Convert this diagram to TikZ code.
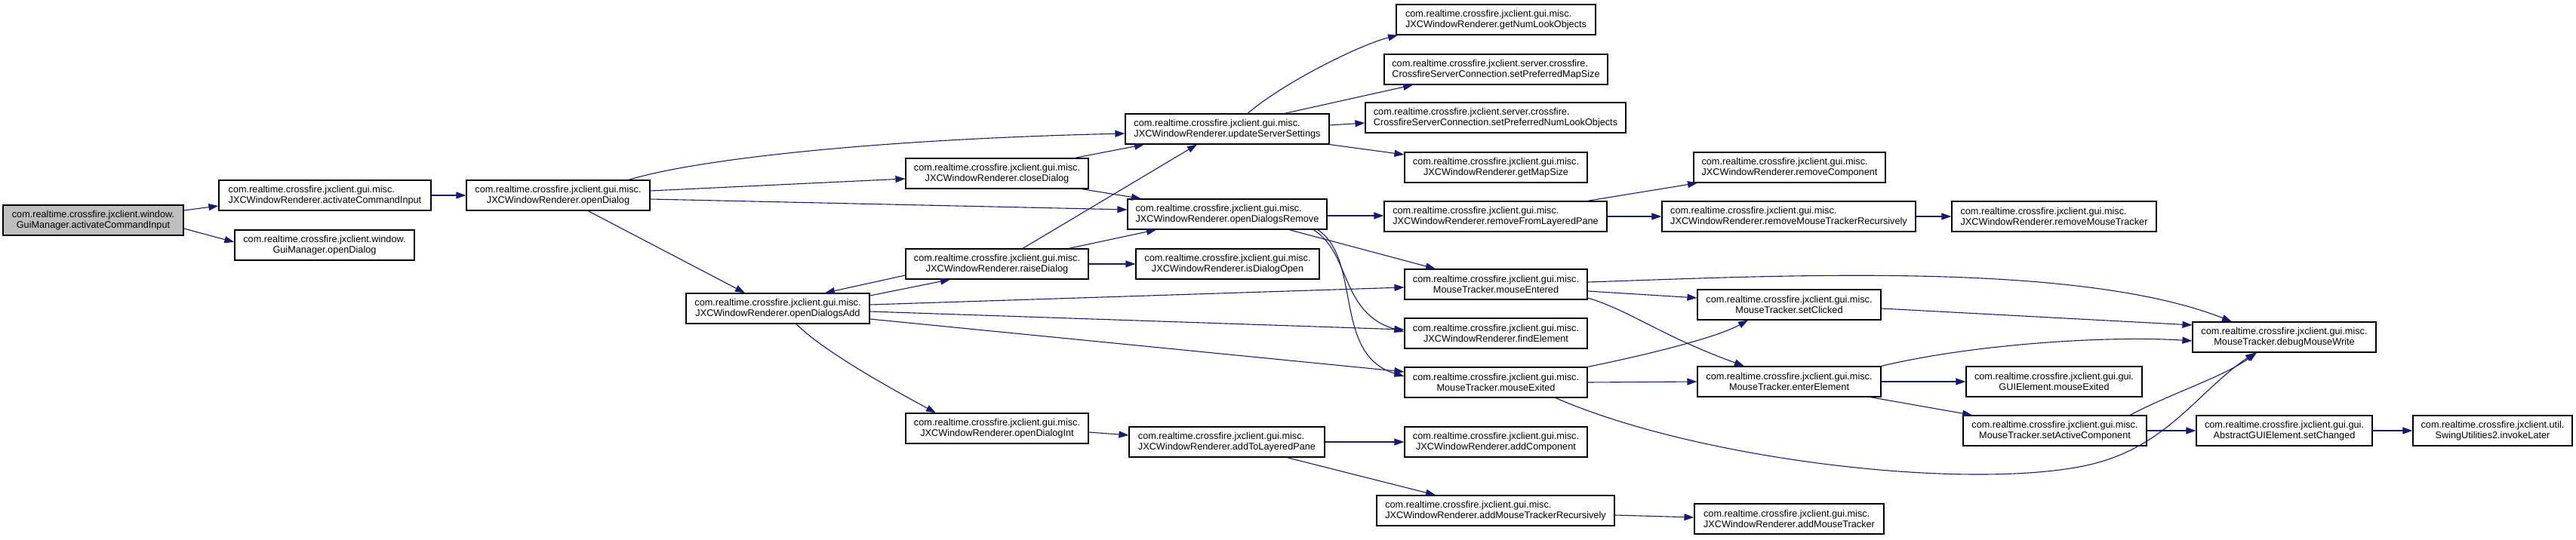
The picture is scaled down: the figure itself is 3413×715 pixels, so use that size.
\documentclass[tikz,border=0pt]{standalone}
\usepackage{fontspec}
\setmainfont{Liberation Sans}
\usetikzlibrary{arrows.meta,calc}
\definecolor{edgeblue}{HTML}{191970}
\definecolor{rootgrey}{HTML}{BFBFBF}
\newsavebox\dlA
\newsavebox\dlB
\newlength\dlW
\newcommand\dlab[2]{\sbox\dlA{#1}\sbox\dlB{#2}%
  \setlength\dlW{\wd\dlA}\ifdim\wd\dlB>\dlW\setlength\dlW{\wd\dlB}\fi
  \vbox{\hbox to\dlW{\usebox\dlA\hfil}\hbox to\dlW{\hfil\usebox\dlB\hfil}}}
% \dnode[opts]{name}{x1}{y1}{x2}{line1}{line2}
\newcommand\dnode[7][]{\node[nd,#1,minimum width={(#5-#3)*1pt}] (#2) at ({(#3+#5)/2},{#4+20}) {\dlab{#6}{#7}};}
\begin{document}
\begin{tikzpicture}[x=1pt,y=-1pt,
  nd/.style={draw=black,line width=1.2pt,fill=white,inner sep=0pt,minimum height=40pt,
    font=\fontsize{12.7}{14}\selectfont},
  rootnd/.style={fill=rootgrey},
  ed/.style={draw=edgeblue,line width=1.1pt,-{Triangle[length=13pt,width=9pt]}}]
\useasboundingbox (0,0) rectangle (3413,715);
\def\gm{com.realtime.crossfire.jxclient.gui.misc.}
\def\gg{com.realtime.crossfire.jxclient.gui.gui.}
\def\jr{JXCWindowRenderer}
\dnode[rootnd]{root}{4}{272}{243}{com.realtime.crossfire.jxclient.window.}{GuiManager.activateCommandInput}
\dnode{aci}{290}{239}{571}{\gm}{\jr.activateCommandInput}
\dnode{gmod}{311}{305}{549}{com.realtime.crossfire.jxclient.window.}{GuiManager.openDialog}
\dnode{od}{618}{239}{861}{\gm}{\jr.openDialog}
\dnode{oda}{909}{389}{1152}{\gm}{\jr.openDialogsAdd}
\dnode{cd}{1200}{210}{1442}{\gm}{\jr.closeDialog}
\dnode{rd}{1200}{330}{1442}{\gm}{\jr.raiseDialog}
\dnode{odi}{1200}{548}{1442}{\gm}{\jr.openDialogInt}
\dnode{uss}{1491}{151}{1761}{\gm}{\jr.updateServerSettings}
\dnode{odr}{1494}{264}{1758}{\gm}{\jr.openDialogsRemove}
\dnode{ido}{1505}{330}{1748}{\gm}{\jr.isDialogOpen}
\dnode{atlp}{1496}{566}{1755}{\gm}{\jr.addToLayeredPane}
\dnode{gnlo}{1850}{6}{2114}{\gm}{\jr.getNumLookObjects}
\dnode{spms}{1834}{72}{2130}{com.realtime.crossfire.jxclient.server.crossfire.}{CrossfireServerConnection.setPreferredMapSize}
\dnode{spnlo}{1809}{136}{2154}{com.realtime.crossfire.jxclient.server.crossfire.}{CrossfireServerConnection.setPreferredNumLookObjects}
\dnode{gms}{1861}{202}{2103}{\gm}{\jr.getMapSize}
\dnode{rflp}{1834}{267}{2129}{\gm}{\jr.removeFromLayeredPane}
\dnode{me}{1861}{357}{2103}{\gm}{MouseTracker.mouseEntered}
\dnode{fe}{1861}{422}{2103}{\gm}{\jr.findElement}
\dnode{mx}{1861}{487}{2103}{\gm}{MouseTracker.mouseExited}
\dnode{ac}{1861}{566}{2103}{\gm}{\jr.addComponent}
\dnode{amtr}{1824}{657}{2139}{\gm}{\jr.addMouseTrackerRecursively}
\dnode{rc}{2244}{202}{2498}{\gm}{\jr.removeComponent}
\dnode{rmtr}{2202}{267}{2538}{\gm}{\jr.removeMouseTrackerRecursively}
\dnode{sc}{2249}{384}{2492}{\gm}{MouseTracker.setClicked}
\dnode{ee}{2249}{486}{2492}{\gm}{MouseTracker.enterElement}
\dnode{amt}{2245}{668}{2496}{\gm}{\jr.addMouseTracker}
\dnode{rmt}{2586}{267}{2857}{\gm}{\jr.removeMouseTracker}
\dnode{gme}{2605}{486}{2838}{\gg}{GUIElement.mouseExited}
\dnode{sac}{2601}{551}{2844}{\gm}{MouseTracker.setActiveComponent}
\dnode{dmw}{2905}{427}{3148}{\gm}{MouseTracker.debugMouseWrite}
\dnode{sch}{2910}{551}{3143}{\gg}{AbstractGUIElement.setChanged}
\dnode{il}{3197}{551}{3408}{com.realtime.crossfire.jxclient.util.}{SwingUtilities2.invokeLater}
% edges
\draw[ed] (root.east |- 0,279) -- (aci.west |- 0,273);
\draw[ed] (root.east |- 0,303) -- (gmod.west |- 0,321);
\draw[ed] (aci.east) -- (od.west);
\draw[ed] (od.north -| 833,0) .. controls (920,212) and (1150,185) .. (uss.west |- 0,177);
\draw[ed] (od.east |- 0,253) -- (cd.west |- 0,237);
\draw[ed] (od.east |- 0,264) -- (odr.west |- 0,278);
\draw[ed] (od.south -| 779,0) -- (oda.north -| 987,0);
\draw[ed] (cd.north -| 1424,0) -- (uss.south -| 1516,0);
\draw[ed] (cd.south -| 1433,0) -- (odr.north -| 1512,0);
\draw[ed] (rd.north -| 1355,0) -- (uss.south -| 1586,0);
\draw[ed] (rd.north -| 1416,0) -- (odr.south -| 1532,0);
\draw[ed] (rd.east) -- (ido.west);
\draw[ed] (rd.west |- 0,365) -- (oda.north -| 1093,0);
\draw[ed] (oda.east |- 0,392) -- (rd.south -| 1259,0);
\draw[ed] (oda.east |- 0,404) -- (me.west |- 0,381);
\draw[ed] (oda.east |- 0,413) -- (fe.west |- 0,437);
\draw[ed] (oda.east |- 0,423) -- (mx.west |- 0,493);
\draw[ed] (oda.south -| 1055,0) .. controls (1090,465) and (1180,515) .. (odi.north -| 1240,0);
\draw[ed] (odr.east |- 0,286) -- (rflp.west |- 0,286);
\draw[ed] (odr.south -| 1708,0) -- (me.north -| 1902,0);
\draw[ed] (odr.south -| 1740,0) .. controls (1790,335) and (1775,415) .. (fe.west |- 0,440);
\draw[ed] (odr.south -| 1746,0) .. controls (1805,345) and (1765,470) .. (mx.west |- 0,499);
\draw[ed] (uss.north -| 1653,0) .. controls (1700,110) and (1800,60) .. (gnlo.south -| 1852,0);
\draw[ed] (uss.north -| 1702,0) -- (spms.south -| 1872,0);
\draw[ed] (uss.east |- 0,166) -- (spnlo.west |- 0,163);
\draw[ed] (uss.south east) -- (gms.west |- 0,205);
\draw[ed] (rflp.north -| 2103,0) -- (rc.south -| 2249,0);
\draw[ed] (rflp.east) -- (rmtr.west);
\draw[ed] (rmtr.east) -- (rmt.west);
\draw[ed] (me.east |- 0,374) .. controls (2350,366) and (2750,345) .. (dmw.north -| 2957,0);
\draw[ed] (me.east |- 0,386) -- (sc.west |- 0,395);
\draw[ed] (me.east |- 0,395) .. controls (2160,412) and (2200,445) .. (ee.north -| 2311,0);
\draw[ed] (sc.east |- 0,409) -- (dmw.west |- 0,431);
\draw[ed] (mx.north east) .. controls (2160,475) and (2270,450) .. (sc.south -| 2316,0);
\draw[ed] (mx.east) -- (ee.west);
\draw[ed] (mx.south -| 2061,0) .. controls (2250,610) and (2600,650) .. (2760,618) .. controls (2870,596) and (2910,520) .. (dmw.south -| 2988,0);
\draw[ed] (ee.north east) .. controls (2620,455) and (2800,445) .. (dmw.west |- 0,452);
\draw[ed] (ee.east) -- (gme.west);
\draw[ed] (ee.south -| 2478,0) -- (sac.north -| 2613,0);
\draw[ed] (sac.north -| 2822,0) .. controls (2880,520) and (2945,500) .. (dmw.south -| 2990,0);
\draw[ed] (sac.east) -- (sch.west);
\draw[ed] (sch.east) -- (il.west);
\draw[ed] (odi.east |- 0,573) -- (atlp.west |- 0,577);
\draw[ed] (atlp.east) -- (ac.west);
\draw[ed] (atlp.south -| 1705,0) -- (amtr.north -| 1902,0);
\draw[ed] (amtr.east |- 0,683) -- (amt.west |- 0,686);
\end{tikzpicture}
\end{document}
